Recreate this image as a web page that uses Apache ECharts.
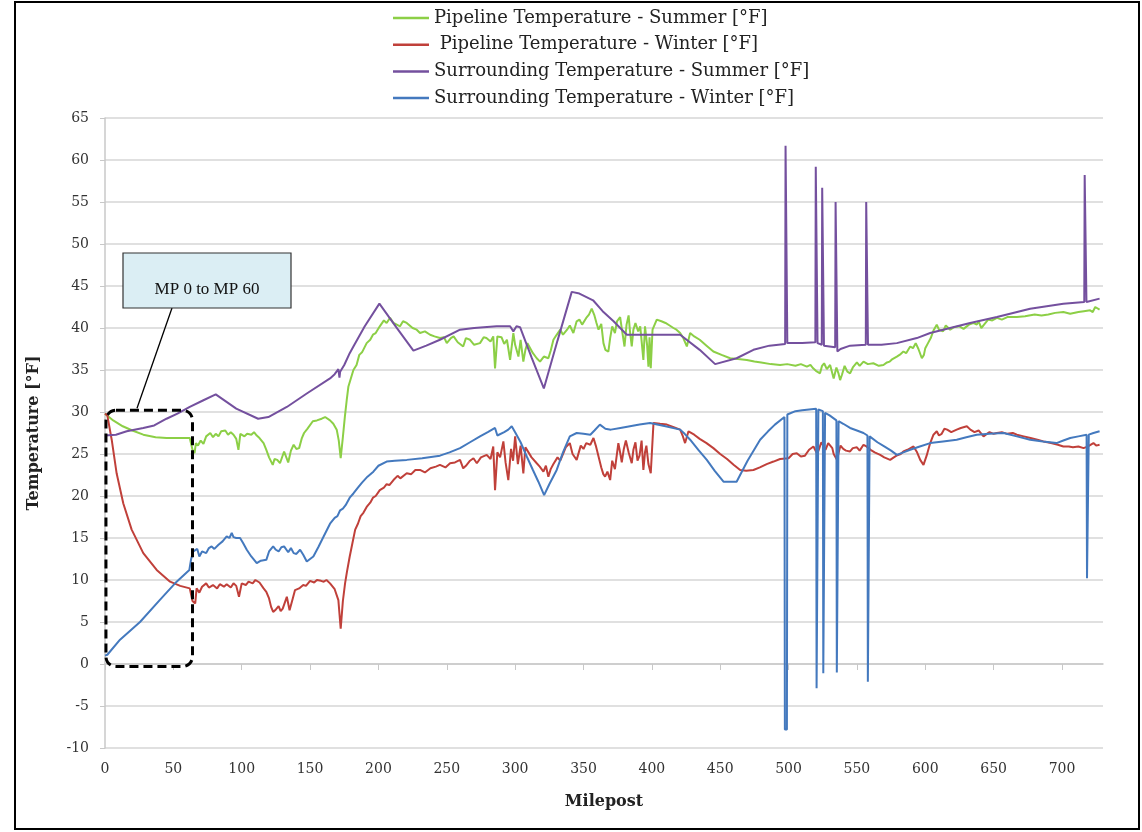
<!DOCTYPE html>
<html>
<head>
<meta charset="utf-8">
<script src="https://cdn.jsdelivr.net/npm/echarts@6/dist/echarts.min.js"></script>
<style>
  html, body { margin: 0; padding: 0; background: #fff; }
  #chart { width: 1142px; height: 832px; }
</style>
</head>
<body>
<div id="chart"></div>
<script>
// values: [milepost, temperature °F]
const seriesNames = [
  'Pipeline Temperature - Summer [°F]',
  ' Pipeline Temperature - Winter [°F]',
  'Surrounding Temperature - Summer [°F]',
  'Surrounding Temperature - Winter [°F]',
]

const pipeSummer = [
  [0,29.8],[6,29.0],[13,28.3],[20,27.8],[28,27.3],[37,27.0],[45,26.9],[55,26.9],[62,26.9],[64,25.5],[65.5,25.1],[66.5,26.3],
  [68,26.0],[70,26.6],[72,26.2],[74,27.1],[77,27.5],[79,27.0],[81,27.4],[83,27.1],[85,27.7],[88,27.8],[90,27.3],[92,27.6],
  [94,27.3],[96,26.8],[97.6,25.5],[99,27.4],[102,27.1],[104,27.4],[107,27.3],[109,27.6],[111,27.2],[113,26.9],[116,26.3],
  [118,25.5],[120,24.6],[122.7,23.7],[124,24.4],[126,24.3],[128,23.9],[129,24.1],[131,25.3],[132,25.1],[134,24.0],[136,25.4],
  [138,26.1],[140,25.6],[142,25.7],[144,26.9],[145.6,27.5],[148,28.0],[152,28.9],[155,29.0],[158.5,29.2],[161,29.4],[164.6,29.0],
  [167,28.6],[169.5,27.9],[171,26.6],[172.4,24.5],[174,27.0],[175.5,29.5],[176.8,31.4],[178,33.0],[181.7,35.0],[184,35.6],
  [186,36.8],[188,37.1],[191.4,38.2],[194,38.6],[196,39.2],[198,39.4],[201,40.2],[204,40.9],[206,40.6],[208.5,41.2],[211,40.6],
  [215.8,40.2],[218,40.8],[220.7,40.6],[225,40.0],[228,39.8],[230.4,39.4],[234,39.6],[237.8,39.2],[241,39.0],[245,38.8],
  [248,38.9],[250,38.2],[253,38.8],[255,39.0],[258,38.3],[262,37.8],[264,38.8],[267,38.6],[270,38.0],[274.3,38.2],[277,38.9],
  [279,38.8],[282,38.4],[284,39.0],[285.3,35.2],[287,39.0],[290,38.9],[292,38.1],[294,38.6],[296.3,36.2],[298.7,39.4],
  [300,38.0],[302.4,36.6],[304,38.6],[306,36.0],[307.5,37.4],[309,38.2],[311,37.6],[313,37.0],[315.8,36.4],[318.2,36.0],
  [321,36.6],[324.3,36.4],[326,37.3],[328,38.6],[330,39.1],[333,39.8],[335,39.2],[338,39.8],[340,40.3],[342.6,39.4],[345,40.8],
  [347,41.0],[349,40.4],[352,41.2],[354,41.6],[356,42.3],[358,41.5],[359.5,40.6],[361,39.8],[363,40.5],[364.6,38.2],[366,37.4],
  [368.2,37.2],[369.5,38.8],[371,40.2],[373,39.4],[374.5,40.8],[376.8,41.3],[378.5,39.4],[380,37.8],[381.5,40.4],[383,41.5],
  [384,39.6],[385.3,37.8],[386.5,39.8],[388,40.6],[390,39.6],[391.5,40.2],[393.8,36.2],[395,40.2],[396.5,38.0],[397.5,35.4],
  [398.3,38.9],[399.2,35.2],[400.5,39.8],[403.6,41.0],[407,40.8],[410,40.6],[413,40.3],[415.8,40.0],[418,39.8],[420.7,39.4],
  [423,38.8],[425.6,37.8],[428,39.4],[431,39.0],[435,38.6],[440,37.9],[445,37.2],[451,36.8],[457.3,36.4],[463,36.3],
  [469.5,36.2],[475,36.0],[480,35.9],[487,35.7],[493.8,35.6],[499,35.7],[505,35.5],[509,35.7],[513.4,35.4],[516,35.6],
  [518,35.2],[520,34.9],[523,34.6],[524.5,35.5],[526,35.8],[528,35.1],[530.4,35.6],[533,34.0],[535,35.3],[536.5,34.6],
  [537.7,33.8],[539,34.4],[541,35.5],[543,34.8],[545,34.6],[547,35.3],[550,35.9],[552,35.5],[554.8,36.0],[558,35.7],[562,35.8],
  [566,35.5],[569.4,35.6],[572,35.9],[574,36.0],[576,36.3],[579.2,36.6],[582,36.9],[584,37.2],[586,37.0],[589,37.8],[591,37.6],
  [593,38.2],[595,37.5],[597.5,36.4],[599,36.8],[600,37.6],[602,38.2],[604,38.8],[606,39.7],[608.4,40.4],[610,39.8],[613,39.6],
  [615,40.3],[618.2,39.8],[621,40.1],[625,40.2],[628,39.9],[632,40.4],[635,40.6],[637.7,40.4],[639,40.8],[641,40.0],[643,40.4],
  [646,41.0],[649,40.9],[652.4,41.2],[656,41.0],[660,41.3],[667,41.3],[673,41.4],[680,41.6],[685,41.5],[690,41.6],[695,41.8],
  [701,41.9],[706,41.7],[712,41.9],[716,42.0],[720.6,42.1],[722.5,41.9],[724.3,42.5],[727.5,42.2],
]

const pipeWinter = [
  [0,29.8],[1.7,29.6],[4.9,26.7],[8.5,22.7],[13.4,19.1],[19.5,16.0],[28,13.2],[37.8,11.2],[47.6,9.8],[55,9.3],[62,9.0],
  [64,7.5],[66,7.2],[67,9.0],[69,8.5],[71,9.2],[74,9.6],[76,9.1],[79,9.4],[82,9.0],[84,9.5],[87,9.2],[89,9.5],[92,9.1],[94,9.6],
  [96,9.3],[98,8.0],[100,9.6],[103,9.4],[105,9.8],[108,9.6],[110,10.0],[113,9.7],[116,9.0],[118,8.6],[120,7.8],[121.5,6.8],
  [123,6.2],[125,6.5],[127,6.9],[128.5,6.3],[130,6.6],[133,8.0],[135,6.4],[137,7.6],[139,8.8],[142,9.0],[145,9.4],[147,9.3],
  [150,9.9],[153,9.7],[155,10.0],[158,9.9],[160,9.8],[162,10.0],[164.6,9.6],[166,9.7],[168,8.9],[170.7,7.6],[172.4,4.2],
  [174,7.5],[175.6,9.6],[177,11.0],[179,12.8],[181,14.4],[183,16.0],[185,16.7],[187,17.6],[189,18.0],[191.4,18.7],[194,19.2],
  [196,19.8],[198,20.0],[201,20.7],[204,21.0],[206,21.4],[208,21.3],[211,21.9],[214,22.4],[216,22.1],[220.7,22.7],[224,22.6],
  [227,23.1],[230.4,23.1],[234,22.8],[238,23.3],[242,23.5],[245,23.7],[249,23.4],[252.4,23.9],[256,24.0],[259.7,24.3],
  [262,23.3],[264,23.6],[267,24.2],[269.5,24.5],[272,23.9],[275,24.6],[279.2,24.9],[282,24.4],[284,25.9],[285.3,20.7],
  [287,25.2],[289,24.6],[291.4,26.5],[293,24.0],[295,21.9],[297,25.6],[298.5,24.2],[300,27.1],[302,23.8],[304,26.0],[306,22.7],
  [307.5,25.8],[309,25.4],[312,24.6],[315.8,23.9],[318,23.5],[320.7,22.9],[322.5,23.6],[324.3,22.3],[326,23.2],[328,23.8],
  [331,24.6],[333,24.2],[335.3,25.1],[337,25.8],[340,26.3],[342,25.0],[345,24.3],[348,26.0],[350,25.6],[352,26.3],[355,26.1],
  [357.3,26.9],[359,26.0],[361,24.7],[363,23.4],[364.5,22.6],[365.8,22.3],[367.5,22.9],[369.5,21.9],[371,24.2],[373,23.2],
  [375.5,26.3],[377,25.0],[378,24.0],[379.5,25.6],[381,26.6],[383,25.2],[385.3,23.9],[386.5,25.5],[388,26.4],[389.5,24.2],
  [391,24.8],[392.5,26.6],[393.8,23.1],[395,25.2],[396,26.0],[397.5,23.8],[399.2,22.7],[401.2,28.7],[406,28.6],[411,28.5],
  [416,28.2],[420.7,27.9],[422.5,27.2],[424.3,26.3],[426.8,27.7],[431,27.3],[435,26.8],[440,26.3],[445,25.7],[450,25.0],
  [455,24.4],[460,23.7],[464.6,23.1],[469,23.0],[474.3,23.1],[479,23.4],[484,23.8],[489,24.1],[493.8,24.4],[500,24.5],
  [503,25.0],[506,25.1],[509,24.7],[512,24.8],[515,25.5],[518.2,25.9],[521,25.0],[522.5,25.7],[524,26.4],[527,25.5],[529,26.3],
  [530.4,26.5],[532,25.7],[533,25.0],[535.5,24.3],[537,25.4],[538,26.0],[540,25.6],[542,25.4],[545,25.3],[547,25.7],[550,25.8],
  [552,25.4],[554.8,26.1],[557,25.9],[560,25.5],[563,25.2],[567,24.9],[570,24.6],[574.3,24.3],[577,24.6],[579,24.8],[582,25.0],
  [584,25.3],[587,25.5],[591.4,25.9],[594,25.2],[596.3,24.3],[598.7,23.7],[601,24.8],[603.6,26.3],[606,27.3],[608.4,27.7],
  [610,27.2],[612,27.4],[614,28.0],[616,27.9],[619,27.6],[623,27.9],[626,28.1],[630.4,28.3],[633,27.9],[636,27.6],[639,27.8],
  [642.6,27.1],[645,27.4],[647,27.6],[650,27.4],[652.4,27.5],[656,27.6],[660,27.4],[664,27.5],[667,27.3],[672,27.1],[677,26.9],
  [682,26.7],[686.5,26.5],[692,26.3],[697,26.1],[701,25.9],[705,25.9],[708,25.8],[712,25.9],[715.8,25.7],[719,25.9],[723,26.3],
  [725,26.0],[727.5,26.1],
]

const surrSummer = [
  [0,27.2],[8,27.3],[15.9,27.7],[28,28.1],[36,28.4],[45,29.2],[53,29.8],[62,30.6],[72,31.4],[81,32.1],[96,30.4],[112,29.2],
  [119.5,29.4],[133,30.6],[147.6,32.2],[164.6,34.0],[168,34.5],[170.7,35.1],[171.5,34.1],[172,34.8],[175,35.6],[179,37.0],
  [181.7,37.8],[190,40.2],[200.7,42.9],[213,40.1],[225.6,37.3],[235,37.9],[245,38.6],[259.7,39.8],[270,40.0],[286.5,40.2],
  [296.3,40.2],[298.7,39.6],[301,40.2],[303.6,40.1],[312,36.5],[321,32.8],[331,38.5],[341.4,44.3],[347,44.1],[357,43.3],
  [364,42.0],[372,40.8],[381.7,39.2],[400,39.2],[420.7,39.2],[435,37.4],[446.3,35.7],[462,36.4],[474.3,37.4],[486,37.9],
  [497.5,38.1],[497.8,61.7],[498.8,61.7],[499.1,38.2],[510,38.2],[519.6,38.3],[519.9,59.2],[520.9,59.2],[521.2,38.2],
  [524.3,38.0],[524.6,56.7],[525.6,56.7],[525.9,37.9],[530,37.8],[534.1,37.7],[534.4,55.0],[535.4,55.0],[535.7,37.2],
  [538,37.5],[545,37.9],[556.5,38.0],[556.8,55.0],[557.8,55.0],[558.1,38.0],[568,38.0],[579.2,38.2],[593.8,38.8],
  [603.6,39.4],[618.2,40.0],[632.8,40.6],[652.4,41.3],[676.7,42.3],[701,42.9],[716.3,43.1],[716.6,58.2],[717.6,58.2],
  [717.9,43.1],[727.5,43.5],
]

const surrWinter = [
  [0,1.0],[1.7,1.1],[11,2.9],[25.6,5.0],[40,7.6],[52.4,9.8],[61.7,11.2],[63,12.5],[64.6,13.4],[66,13.2],[67.5,13.7],[69,12.8],
  [71,13.4],[74,13.2],[76,13.8],[78,14.0],[80,13.7],[83,14.2],[86,14.6],[89,15.2],[91,15.0],[92.7,15.6],[94,15.1],[96,15.0],
  [98.8,15.0],[101,14.4],[103.7,13.6],[107,12.8],[111,12.0],[114,12.3],[118,12.4],[120,13.4],[123,14.0],[125,13.6],[127,13.4],
  [129,13.9],[131,14.0],[134,13.3],[136,13.8],[138,13.2],[140,13.1],[142.7,13.6],[145,13.0],[147.6,12.2],[150,12.5],[152.4,12.8],
  [156,13.9],[160,15.2],[164.6,16.7],[168,17.4],[170,17.6],[172,18.3],[174,18.5],[176,18.9],[179,19.8],[181.7,20.3],[185,21.0],
  [188,21.6],[192,22.3],[196.3,22.9],[200,23.6],[206,24.1],[212,24.2],[220.7,24.3],[232,24.5],[245,24.8],[252,25.2],[259.7,25.7],
  [267,26.4],[274.3,27.1],[280,27.6],[285.3,28.1],[287,27.2],[292,27.6],[295,27.9],[297.5,28.3],[300,27.6],[304,26.4],
  [308.5,24.7],[313,23.1],[317,21.7],[321.2,20.1],[325,21.4],[330.4,23.1],[335,25.2],[340,27.1],[345,27.5],[350,27.4],[355,27.3],
  [358,27.8],[362,28.5],[366,28.0],[370,27.9],[377,28.1],[384,28.3],[391,28.5],[398.7,28.7],[410,28.3],[420.7,27.9],[424,27.4],
  [428,26.7],[434,25.5],[440.2,24.3],[446,23.0],[452.4,21.7],[457,21.7],[462,21.7],[470,24.2],[479.2,26.7],[485,27.7],[490,28.5],
  [497,29.4],[497.3,-7.8],[498.8,-7.8],[499.1,29.7],[505,30.1],[510,30.2],[515,30.3],[520.2,30.4],[520.5,-2.9],[521.5,-2.9],
  [521.8,30.3],[525.1,30.1],[525.4,-1.1],[526.4,-1.1],[526.7,29.9],[530,29.6],[535,29.0],[535.3,-1.0],[536.3,-1.0],[536.6,28.9],
  [540,28.6],[545,28.1],[550,27.8],[554.8,27.5],[557.7,27.2],[558,-2.1],[559,-2.1],[559.3,27.1],[565,26.4],[570,25.9],
  [575,25.4],[579.2,24.9],[584,25.2],[589,25.5],[596,25.9],[603.6,26.3],[613,26.5],[623,26.7],[630,27.0],[637.7,27.3],
  [647,27.4],[657.2,27.5],[667,27.1],[676.7,26.7],[686,26.5],[696,26.3],[701,26.6],[706,26.9],[712,27.1],[718,27.3],
  [718.3,10.2],[719.3,10.2],[719.6,27.3],[723,27.5],[727.5,27.7],
]

const COLORS = ['#8ccf46', '#c0403a', '#74509e', '#4479be']
const SERIF = '"DejaVu Serif", "Liberation Serif", serif'

const chart = echarts.init(document.getElementById('chart'), null, { renderer: 'canvas' })

function line(name, data, i) {
  return {
    name, type: 'line', data, symbol: 'none', showSymbol: false,
    lineStyle: { width: 2, color: COLORS[i] }, itemStyle: { color: COLORS[i] },
  }
}

chart.setOption({
  animation: false,
  color: COLORS,
  legend: {
    orient: 'vertical', left: 393, top: 9, padding: 0,
    icon: 'rect', itemWidth: 36, itemHeight: 2.5, itemGap: 8.7,
    textStyle: { fontFamily: SERIF, fontSize: 18, lineHeight: 18, color: '#222' },
    data: seriesNames,
  },
  grid: { left: 105, right: 39, top: 118, bottom: 84 },
  xAxis: {
    type: 'value', min: 0, max: 730, interval: 50,
    name: 'Milepost', nameLocation: 'middle', nameGap: 46,
    nameTextStyle: { fontFamily: SERIF, fontSize: 16, fontWeight: 'bold', color: '#222' },
    axisLine: { lineStyle: { color: '#c8c8c8', width: 1.5 } },
    axisTick: { show: true, length: 6, lineStyle: { color: '#c8c8c8' } },
    axisLabel: { fontFamily: SERIF, fontSize: 14, color: '#333', margin: 14, showMaxLabel: false },
    splitLine: { show: false },
  },
  yAxis: {
    type: 'value', min: -10, max: 65, interval: 5,
    name: 'Temperature [°F]', nameLocation: 'middle', nameGap: 63, nameRotate: 90,
    nameTextStyle: { fontFamily: SERIF, fontSize: 16, fontWeight: 'bold', color: '#222' },
    axisLine: { show: true, lineStyle: { color: '#c8c8c8', width: 1.5 } },
    axisTick: { show: true, length: 5, lineStyle: { color: '#c8c8c8' } },
    axisLabel: { fontFamily: SERIF, fontSize: 14, color: '#333', margin: 16 },
    splitLine: { lineStyle: { color: '#d6d6d6', width: 1.5 } },
  },
  series: [
    line(seriesNames[0], pipeSummer, 0),
    line(seriesNames[1], pipeWinter, 1),
    line(seriesNames[2], surrSummer, 2),
    line(seriesNames[3], surrWinter, 3),
  ],
})

// annotation: dashed box around MP 0-60 and callout label
const tl = chart.convertToPixel({ gridIndex: 0 }, [0.7, 30.2])
const br = chart.convertToPixel({ gridIndex: 0 }, [64, -0.3])

chart.setOption({
  graphic: [
    { type: 'rect', silent: true, z: 0,
      shape: { x: 15, y: 2, width: 1124, height: 827 },
      style: { fill: 'none', stroke: '#000', lineWidth: 2 } },
    { type: 'rect', z: 100, silent: true,
      shape: { x: tl[0], y: tl[1], width: br[0] - tl[0], height: br[1] - tl[1], r: 10 },
      style: { fill: 'none', stroke: '#000', lineWidth: 3, lineDash: [9, 5] } },
    { type: 'line', z: 100, silent: true,
      shape: { x1: 172, y1: 308, x2: 137, y2: tl[1] - 2 },
      style: { stroke: '#000', lineWidth: 1.3 } },
    { type: 'rect', z: 100, silent: true,
      shape: { x: 123, y: 253, width: 168, height: 55 },
      style: { fill: '#dbeef4', stroke: '#333', lineWidth: 1.2 } },
    { type: 'text', z: 101, silent: true, x: 207, y: 290,
      style: { text: 'MP 0 to MP 60', fontFamily: '"Liberation Serif", serif', fontSize: 17,
               fill: '#111', align: 'center', verticalAlign: 'middle' } },
  ],
})
</script>
</body>
</html>
